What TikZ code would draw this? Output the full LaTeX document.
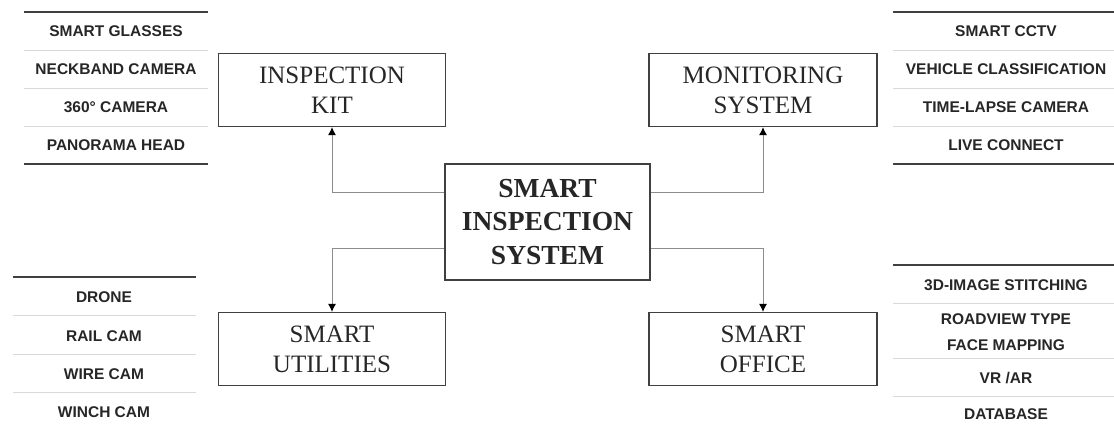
\documentclass[tikz,border=0pt]{standalone}
\usepackage{fontspec}
\setmainfont{Liberation Serif}
\setsansfont{Liberation Sans}
\usetikzlibrary{arrows.meta,positioning}

\begin{document}
\begin{tikzpicture}[x=1pt, y=-1pt,
    >={Latex[length=8pt,width=8pt,color=black]},
    main box/.style={rectangle, draw=black!75, line width=1.2pt,
        minimum width=227pt, minimum height=73pt, align=center,
        text=black!85, font=\fontsize{25}{30}\selectfont},
    item/.style={align=center, text=black!85,
        font=\sffamily\bfseries\fontsize{15.5}{26}\selectfont},
    link/.style={->, draw=black!45, line width=1pt},
    heavy rule/.style={draw=black!75, line width=1.8pt},
    thin rule/.style={draw=black!15, line width=0.9pt}
  ]
  \useasboundingbox (0,0) rectangle (1114,426);

  \node [main box,
    minimum width = 205pt,
    minimum height = 116pt,
    font = \bfseries\fontsize{27.5}{33.5}\selectfont
  ] (sis) at (547.5, 222) {SMART\\INSPECTION\\SYSTEM};

  \node [main box] (kit) at (332, 90) {INSPECTION\\KIT};
  \node [main box, minimum width = 228pt] (mon) at (763, 90) {MONITORING\\SYSTEM};
  \node [main box] (util) at (332, 349) {SMART\\UTILITIES};
  \node [main box, minimum width = 228pt] (office) at (763, 349) {SMART\\OFFICE};

  %%%%%%%%%%%%%%%%%%%%%%%%%%%%%%

  \draw [link] ([yshift=30pt]sis.west) -| (kit.south);
  \draw [link] ([yshift=30pt]sis.east) -| (mon.south);
  \draw [link] ([yshift=-26pt]sis.west) -| (util.north);
  \draw [link] ([yshift=-26pt]sis.east) -| (office.north);

  %%%%%%%%%%%%%%%%%%%%%%%%%%%%%%

  % inspection kit list
  \foreach \y in {50, 88, 126} \draw [thin rule] (24, \y) -- (208, \y);
  \draw [heavy rule] (24, 12) -- (208, 12);
  \draw [heavy rule] (24, 164) -- (208, 164);
  \foreach \y/\txt [count=\i] in {31/SMART GLASSES, 69/NECKBAND CAMERA,
      107/360° CAMERA, 145/PANORAMA HEAD}
    \node [item] (kit\i) at (116, \y) {\txt};

  % monitoring list
  \foreach \y in {50, 88, 126} \draw [thin rule] (893, \y) -- (1114, \y);
  \draw [heavy rule] (893, 12) -- (1114, 12);
  \draw [heavy rule] (893, 164) -- (1114, 164);
  \foreach \y/\txt [count=\i] in {31/SMART CCTV, 69/VEHICLE CLASSIFICATION,
      107/TIME-LAPSE CAMERA, 145/LIVE CONNECT}
    \node [item] (mon\i) at (1006, \y) {\txt};

  % utilities list
  \foreach \y in {315, 354, 392} \draw [thin rule] (13, \y) -- (196, \y);
  \draw [heavy rule] (13, 277) -- (196, 277);
  \foreach \y/\txt [count=\i] in {297/DRONE, 336/RAIL CAM,
      374/WIRE CAM, 412/WINCH CAM}
    \node [item] (util\i) at (104, \y) {\txt};

  % office list
  \foreach \y in {303, 358, 396} \draw [thin rule] (893, \y) -- (1114, \y);
  \draw [heavy rule] (893, 265) -- (1114, 265);
  \foreach \y/\txt [count=\i] in {285/3D-IMAGE STITCHING,
      332/{ROADVIEW TYPE\\FACE MAPPING}, 378/{VR /AR}, 414/DATABASE}
    \node [item] (office\i) at (1006, \y) {\txt};

\end{tikzpicture}
\end{document}
